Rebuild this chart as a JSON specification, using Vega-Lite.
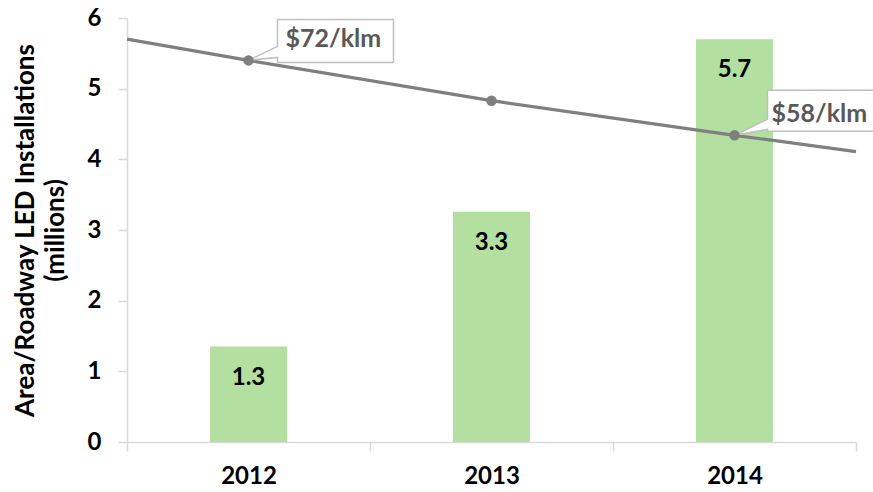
{
  "$schema": "https://vega.github.io/schema/vega-lite/v6.json",
  "width": 729,
  "height": 424,
  "autosize": {"type": "none"},
  "padding": {"left": 127, "top": 18, "right": 17, "bottom": 50},
  "background": "white",
  "config": {"view": {"stroke": null}, "font": "Lato", "axis": {"grid": false}},
  "datasets": {
    "installs": [
      {"year": 2012, "value": 1.35, "label": "1.3"},
      {"year": 2013, "value": 3.26, "label": "3.3"},
      {"year": 2014, "value": 5.70, "label": "5.7"}
    ],
    "cost": [
      {"year": 2011.5, "value": 5.70},
      {"year": 2012, "value": 5.40, "callout": "$72/klm"},
      {"year": 2013, "value": 4.83},
      {"year": 2014, "value": 4.34, "callout": "$58/klm"},
      {"year": 2014.5, "value": 4.11}
    ]
  },
  "encoding": {
    "x": {
      "field": "year", "type": "quantitative",
      "scale": {"domain": [2011.5, 2014.5], "nice": false, "zero": false, "padding": 0},
      "axis": {
        "values": [2011.5, 2012.5, 2013.5, 2014.5],
        "labelExpr": "datum.value < 2014 ? format(datum.value + 0.5, 'd') : ''",
        "labelOffset": 121.5, "labelFlush": false, "labelOverlap": false,
        "tickSize": 9, "tickColor": "#d9d9d9", "domainColor": "#d9d9d9", "domainWidth": 1.5, "tickWidth": 1.5,
        "labelFontSize": 24, "labelFontWeight": "bold", "labelColor": "black", "labelPadding": 13,
        "title": null
      }
    },
    "y": {
      "field": "value", "type": "quantitative",
      "scale": {"domain": [0, 6], "nice": false},
      "axis": {
        "values": [0, 1, 2, 3, 4, 5, 6],
        "tickSize": 9, "tickColor": "#d9d9d9", "domainColor": "#d9d9d9", "domainWidth": 1.5, "tickWidth": 1.5,
        "labelFontSize": 24, "labelFontWeight": "bold", "labelColor": "black", "labelPadding": 17,
        "title": ["Area/Roadway LED Installations", "(millions)"],
        "titleFontSize": 26, "titleFontWeight": "bold", "titleColor": "black",
        "titleLineHeight": 30, "titlePadding": 19
      }
    }
  },
  "layer": [
    {
      "data": {"name": "installs"},
      "mark": {"type": "bar", "size": 77, "color": "#b3dfa0"}
    },
    {
      "data": {"name": "cost"},
      "mark": {"type": "line", "color": "#7f7f7f", "strokeWidth": 3.2}
    },
    {
      "data": {"name": "cost"},
      "transform": [{"filter": "isValid(datum.callout)"}],
      "mark": {"type": "point", "filled": true, "fill": "white", "stroke": "#bfbfbf", "strokeWidth": 1.5, "size": 4, "opacity": 1, "fillOpacity": 1, "strokeOpacity": 1},
      "encoding": {
        "shape": {
          "field": "callout", "type": "nominal", "legend": null,
          "scale": {
            "domain": ["$72/klm", "$58/klm"],
            "range": [
              "M0 0 L29 -14 L29 -41 L145 -41 L145 2 L29 2 L29 -3 Z",
              "M0 0 L33 -16 L33 -45 L149 -45 L149 -4 L33 -4 L33 -6 Z"
            ]
          }
        }
      }
    },
    {
      "data": {"name": "cost"},
      "transform": [{"filter": "datum.year >= 2012 && datum.year <= 2014"}],
      "mark": {"type": "point", "filled": true, "color": "#7f7f7f", "size": 110, "opacity": 1}
    },
    {
      "data": {"name": "cost"},
      "transform": [{"filter": "isValid(datum.callout)"}],
      "mark": {"type": "text", "align": "left", "baseline": "middle", "dx": 37, "dy": -21, "fontSize": 25, "fontWeight": "bold", "color": "#595959"},
      "encoding": {"text": {"field": "callout"}}
    },
    {
      "data": {"name": "installs"},
      "mark": {"type": "text", "baseline": "middle", "dy": 31, "fontSize": 24, "fontWeight": "bold", "color": "black"},
      "encoding": {"text": {"field": "label"}}
    }
  ]
}
